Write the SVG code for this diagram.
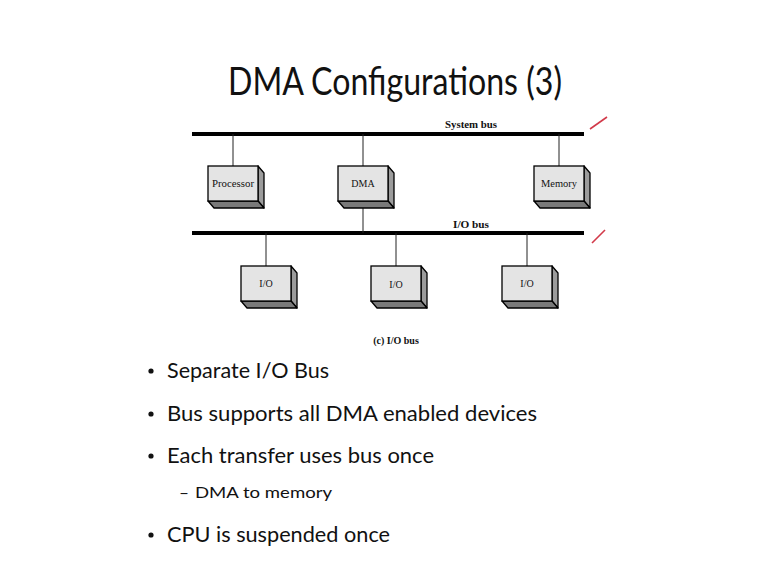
<svg xmlns="http://www.w3.org/2000/svg" width="767" height="574" viewBox="0 0 767 574">
  <defs>
    <style>
      .title { font-family: Lato, "Open Sans", sans-serif; font-size: 39px; fill: #111; }
      .bullet { font-family: Lato, "Open Sans", sans-serif; font-size: 21px; fill: #111; }
      .sub { font-family: Lato, "Open Sans", sans-serif; font-size: 16px; fill: #111; }
      .lbl { font-family: "Liberation Serif", serif; font-size: 10px; fill: #111; text-anchor: middle; }
      .buslbl { font-family: "Liberation Serif", serif; font-size: 11px; font-weight: bold; fill: #111; text-anchor: middle; }
      .bus { stroke: #000; stroke-width: 4; }
      .wire { stroke: #222; stroke-width: 1; fill: none; }
      .front { fill: #e4e4e4; stroke: #000; stroke-width: 1.3; }
      .side { fill: #9c9c9c; stroke: #000; stroke-width: 1.3; stroke-linejoin: round; }
      .bottom { fill: #7a7a7a; stroke: #000; stroke-width: 1.3; stroke-linejoin: round; }
      .tick { stroke: #d23a4a; stroke-width: 1.6; }
    </style>
    <!-- extruded box, front face 50x35, depth offset (6,7) -->
    <g id="box">
      <polygon class="side" points="50,0 56,7 56,42 50,35"/>
      <polygon class="bottom" points="0,35 50,35 56,42 6,42"/>
      <rect class="front" x="0" y="0" width="50" height="35"/>
    </g>
  </defs>

  <rect width="767" height="574" fill="#fff"/>

  <text class="title" x="228" y="95" textLength="334" lengthAdjust="spacingAndGlyphs">DMA Configurations (3)</text>

  <!-- buses and connectors -->
  <g id="connectors">
    <line class="bus" x1="192" y1="134" x2="584" y2="134"/>
    <line class="bus" x1="192" y1="233" x2="584" y2="233"/>
    <line class="wire" x1="233" y1="134" x2="233" y2="166"/>
    <line class="wire" x1="363" y1="134" x2="363" y2="166"/>
    <line class="wire" x1="559" y1="134" x2="559" y2="166"/>
    <line class="wire" x1="363" y1="208" x2="363" y2="233"/>
    <line class="wire" x1="266" y1="233" x2="266" y2="266"/>
    <line class="wire" x1="396" y1="233" x2="396" y2="266"/>
    <line class="wire" x1="527" y1="233" x2="527" y2="266"/>
  </g>

  <text class="buslbl" x="471" y="128" textLength="52" lengthAdjust="spacingAndGlyphs">System bus</text>
  <text class="buslbl" x="471" y="228" textLength="36" lengthAdjust="spacingAndGlyphs">I/O bus</text>

  <g id="processor">
    <use href="#box" x="208" y="166"/>
    <text class="lbl" x="233" y="187" textLength="42" lengthAdjust="spacingAndGlyphs">Processor</text>
  </g>
  <g id="dma">
    <use href="#box" x="338" y="166"/>
    <text class="lbl" x="363" y="187">DMA</text>
  </g>
  <g id="memory">
    <use href="#box" x="534" y="166"/>
    <text class="lbl" x="559" y="187" textLength="36" lengthAdjust="spacingAndGlyphs">Memory</text>
  </g>
  <g id="io1">
    <use href="#box" x="241" y="266"/>
    <text class="lbl" x="266" y="287">I/O</text>
  </g>
  <g id="io2">
    <use href="#box" x="371" y="266"/>
    <text class="lbl" x="396" y="288">I/O</text>
  </g>
  <g id="io3">
    <use href="#box" x="502" y="266"/>
    <text class="lbl" x="527" y="287">I/O</text>
  </g>

  <text class="lbl" x="396" y="344" font-weight="bold">(c) I/O bus</text>

  <!-- pen marks next to the buses -->
  <line class="tick" x1="590" y1="129" x2="607" y2="117"/>
  <line class="tick" x1="592" y1="243" x2="605" y2="230"/>

  <!-- bullet list -->
  <g id="bullets">
    <circle cx="151" cy="371" r="2.6" fill="#111"/>
    <text class="bullet" x="167" y="378" textLength="162" lengthAdjust="spacingAndGlyphs">Separate I/O Bus</text>
    <circle cx="151" cy="414" r="2.6" fill="#111"/>
    <text class="bullet" x="167" y="421" textLength="370" lengthAdjust="spacingAndGlyphs">Bus supports all DMA enabled devices</text>
    <circle cx="151" cy="456" r="2.6" fill="#111"/>
    <text class="bullet" x="167" y="463" textLength="267" lengthAdjust="spacingAndGlyphs">Each transfer uses bus once</text>
    <text class="sub" x="179" y="498" font-size="19" textLength="10" lengthAdjust="spacingAndGlyphs">–</text>
    <text class="sub" x="195" y="498" textLength="137" lengthAdjust="spacingAndGlyphs">DMA to memory</text>
    <circle cx="151" cy="535" r="2.6" fill="#111"/>
    <text class="bullet" x="167" y="542" textLength="223" lengthAdjust="spacingAndGlyphs">CPU is suspended once</text>
  </g>
</svg>
